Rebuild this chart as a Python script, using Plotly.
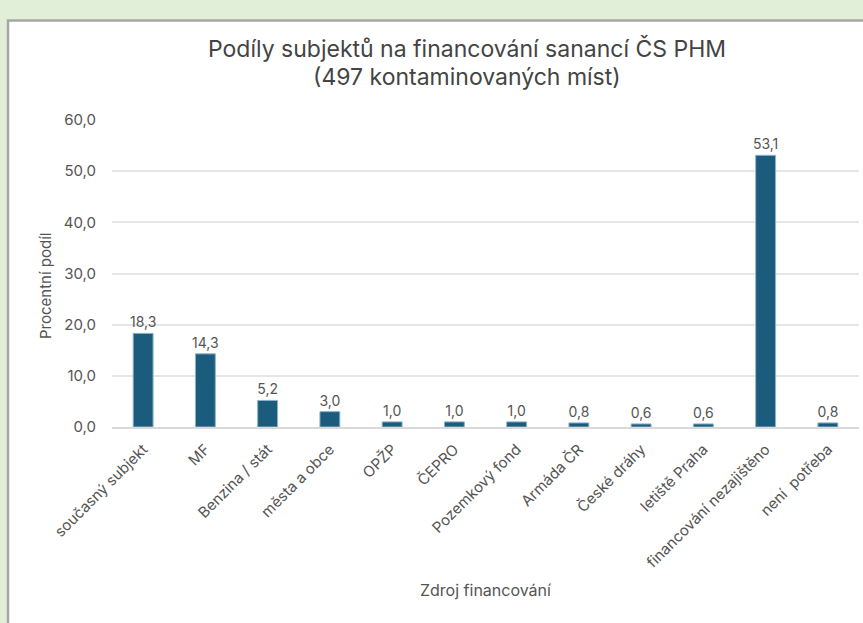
import plotly.graph_objects as go

categories = ["současný subjekt", "MF", "Benzina / stát", "města a obce", "OPŽP", "ČEPRO",
              "Pozemkový fond", "Armáda ČR", "České dráhy", "letiště Praha",
              "financování nezajištěno", "není  potřeba"]
values = [18.3, 14.3, 5.2, 3.0, 1.0, 1.0, 1.0, 0.8, 0.6, 0.6, 53.1, 0.8]
y_ticks = [0, 10, 20, 30, 40, 50, 60]

W, H = 863, 623
L, R, T, B = 112, 4, 120, 196
pw, ph = W - L - R, H - T - B
GREEN = "#e2efd8"
TXT = "#555555"


def px(x):
    return (x - L) / pw


def py(y):
    return (H - B - y) / ph


fig = go.Figure(go.Bar(
    x=categories, y=values,
    marker=dict(color="#1b5b7c", line=dict(color="#8fb6cc", width=1)),
    width=0.32,
    text=[f"{v:.1f}".replace(".", ",") for v in values],
    textposition="outside",
    constraintext="none",
    textfont=dict(size=14, color=TXT),
    cliponaxis=False,
))

ann = [
    dict(text="Podíly subjektů na financování sanancí ČS PHM", x=px(467), y=py(49),
         font=dict(size=23, color="#444444")),
    dict(text="(497 kontaminovaných míst)", x=px(467), y=py(77),
         font=dict(size=23, color="#444444")),
    dict(text="Zdroj financování", x=px(485), y=py(590),
         font=dict(size=16, color=TXT)),
    dict(text="Procentní podíl", x=px(45), y=py(286), textangle=-90,
         font=dict(size=15, color=TXT)),
]
for a in ann:
    a.update(xref="paper", yref="paper", xanchor="center", yanchor="middle", showarrow=False)

fig.update_layout(
    width=W, height=H,
    margin=dict(l=L, r=R, t=T, b=B),
    paper_bgcolor=GREEN,
    plot_bgcolor="rgba(0,0,0,0)",
    separators=", ",
    font=dict(family="Inter, Roboto, sans-serif", color=TXT),
    showlegend=False,
    annotations=ann,
    shapes=[dict(type="rect", xref="paper", yref="paper", layer="below",
                 x0=px(8), x1=px(890), y0=py(650), y1=py(20.5),
                 fillcolor="white", line=dict(color="#a6a6a6", width=2.5))],
)
fig.update_xaxes(
    automargin=False,
    tickangle=-45, tickfont=dict(size=15, color=TXT),
    ticklabelstandoff=6,
    showline=True, linecolor="#d9d9d9", linewidth=1.5,
)
fig.update_yaxes(
    automargin=False,
    range=[0, 60], tickvals=y_ticks, tickformat=".1f",
    tickfont=dict(size=15, color=TXT),
    ticklabelstandoff=15,
    showgrid=True, gridcolor="#e6e6e6", gridwidth=2, zeroline=False,
    ticks="", ticklen=0,
)

fig.write_html("out.html",
               config={"displayModeBar": False},
               post_script="document.body.style.margin='0';"
                           "document.body.style.backgroundColor='%s';" % GREEN)
